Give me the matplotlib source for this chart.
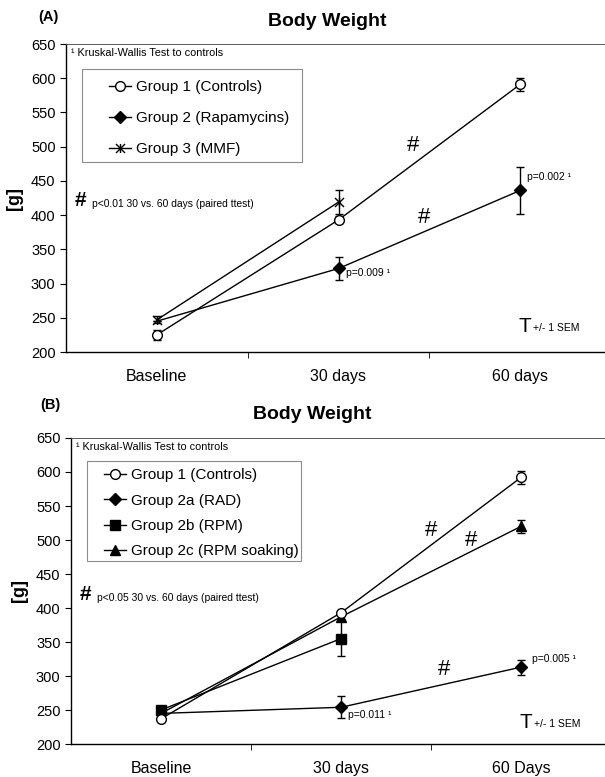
import numpy as np
import matplotlib.pyplot as plt
from matplotlib.path import Path
from matplotlib.lines import Line2D
from matplotlib.patches import Rectangle

plt.rcParams['font.family'] = ['Liberation Sans', 'DejaVu Sans']

# categories
cats_a = ['Baseline', '30 days', '60 days']
cats_b = ['Baseline', '30 days', '60 Days']

# panel A data (mean, SEM)
g1_a = [225, 393, 591]
g1_a_err = [7, 5, 10]
g2_a = [245, 322, 436]
g2_a_err = [0, 17, 35]
g3_a = [247, 419]
g3_a_err = [5, 18]

# panel B data
g1_b = [237, 393, 592]
g1_b_err = [4, 4, 10]
g2a_b = [245, 254, 313]
g2a_b_err = [0, 16, 11]
g2b_b = [250, 355]
g2b_b_err = [0, 26]
g2c_b = [245, 387, 520]
g2c_b_err = [0, 4, 10]

# asterisk-like marker: x with vertical stroke
xmark = Path([(-1, -1), (1, 1), (-1, 1), (1, -1), (0, -1), (0, 1)],
             [Path.MOVETO, Path.LINETO, Path.MOVETO, Path.LINETO,
              Path.MOVETO, Path.LINETO])

fig = plt.figure(figsize=(6.05, 7.77), dpi=100)
H = 777.0
W = 605.0


def make_axes(left, top, bottom):
    # axes in pixel coordinates, right edge runs past the figure
    ax = fig.add_axes([left / W, 1 - bottom / H, (611 - left) / W, (bottom - top) / H])
    ax.set_xlim(-0.5, 2.5)
    ax.set_ylim(200, 650)
    ax.set_yticks(np.arange(200, 651, 50))
    ax.set_xticks([0, 1, 2])
    ax.set_xticks([0.5, 1.5], minor=True)
    ax.tick_params(axis='x', which='major', length=0, pad=12, labelsize=11.5)
    ax.tick_params(axis='x', which='minor', length=4, width=0.6)
    ax.tick_params(axis='y', length=4, width=0.8, labelsize=10.5)
    ax.spines['right'].set_visible(False)
    for s in ax.spines.values():
        s.set_linewidth(1.0)
    ax.spines['top'].set_color('0.35')
    ax.spines['top'].set_linewidth(0.7)
    ax.set_ylabel('[g]', fontsize=13, fontweight='bold', labelpad=6)
    return ax


def series(ax, xs, ys, err, marker, mfc, ms, mev=None):
    ax.errorbar(xs, ys, yerr=err, fmt='-', color='black', lw=1.0,
                marker=marker, markerfacecolor=mfc, markeredgecolor='black',
                markersize=ms, markeredgewidth=1.0, elinewidth=1.0,
                capsize=3, capthick=1.0, markevery=mev)


def handle(marker, mfc, ms):
    return Line2D([], [], color='black', lw=1.0, marker=marker,
                  markerfacecolor=mfc, markeredgecolor='black', markersize=ms)


def legend_box(ax, handles, labels, box, anchor, spacing):
    # frame drawn separately so the box can be wider than the entries
    ax.add_patch(Rectangle((box[0], box[1]), box[2], box[3], transform=ax.transAxes,
                           facecolor='white', edgecolor='0.55', lw=0.8, zorder=4))
    leg = ax.legend(handles, labels, loc='upper left', bbox_to_anchor=anchor,
                    borderaxespad=0, borderpad=0, frameon=False, fontsize=11,
                    handlelength=1.45, handletextpad=0.3, labelspacing=spacing)
    leg.set_zorder(5)


def hash_mark(ax, x, y):
    ax.text(x, y, '#', fontsize=16, va='center', ha='center')


def note(ax, y, txt):
    ax.text(-0.45, y, '#', fontsize=15, fontweight='bold', va='center', ha='left')
    ax.text(-0.357, y - 5, txt, fontsize=7.4, va='center')


########################
# Panel A
########################
axA = make_axes(66, 44, 352)
axA.set_xticklabels(cats_a)
x3 = np.arange(3)
series(axA, x3, g2_a, g2_a_err, 'D', 'black', 6, mev=[1, 2])
series(axA, x3[:2], g3_a, g3_a_err, xmark, 'none', 6.5)
series(axA, x3, g1_a, g1_a_err, 'o', 'white', 7)

legend_box(axA, [handle('o', 'white', 7), handle('D', 'black', 6), handle(xmark, 'none', 6.5)],
           ['Group 1 (Controls)', 'Group 2 (Rapamycins)', 'Group 3 (MMF)'],
           (0.029, 0.617, 0.404, 0.302), (0.079, 0.8815), 1.1)

axA.text(-0.47, 637, '¹ Kruskal-Wallis Test to controls', fontsize=7.8, va='center')
note(axA, 421, 'p<0.01 30 vs. 60 days (paired ttest)')
hash_mark(axA, 1.41, 501)
hash_mark(axA, 1.47, 397)
axA.text(1.04, 315, 'p=0.009 ¹', fontsize=7.5, va='center')
axA.text(2.04, 456, 'p=0.002 ¹', fontsize=7.5, va='center')
axA.text(1.99, 237, 'T', fontsize=15, va='center')
axA.text(2.07, 235, '+/- 1 SEM', fontsize=7.5, va='center')

fig.text(327 / W, 1 - 22 / H, 'Body Weight', fontsize=14, fontweight='bold',
         ha='center', va='center')
fig.text(48 / W, 1 - 17 / H, '(A)', fontsize=10.5, fontweight='bold',
         ha='center', va='center')

########################
# Panel B
########################
axB = make_axes(71, 438, 744)
axB.set_xticklabels(cats_b)
series(axB, x3, g2a_b, g2a_b_err, 'D', 'black', 6, mev=[1, 2])
series(axB, x3, g2c_b, g2c_b_err, '^', 'black', 7.5, mev=[1, 2])
series(axB, x3[:2], g2b_b, g2b_b_err, 's', 'black', 7)
series(axB, x3, g1_b, g1_b_err, 'o', 'white', 7)

legend_box(axB, [handle('o', 'white', 7), handle('D', 'black', 6),
                 handle('s', 'black', 7), handle('^', 'black', 7.5)],
           ['Group 1 (Controls)', 'Group 2a (RAD)', 'Group 2b (RPM)',
            'Group 2c (RPM soaking)'],
           (0.03, 0.598, 0.396, 0.327), (0.061, 0.9005), 0.74)

axB.text(-0.47, 637, '¹ Kruskal-Wallis Test to controls', fontsize=7.8, va='center')
note(axB, 420, 'p<0.05 30 vs. 60 days (paired ttest)')
hash_mark(axB, 1.50, 514)
hash_mark(axB, 1.72, 500)
hash_mark(axB, 1.57, 309)
axB.text(1.04, 243, 'p=0.011 ¹', fontsize=7.5, va='center')
axB.text(2.06, 325, 'p=0.005 ¹', fontsize=7.5, va='center')
axB.text(1.99, 232, 'T', fontsize=15, va='center')
axB.text(2.07, 230, '+/- 1 SEM', fontsize=7.5, va='center')

fig.text(312 / W, 1 - 414 / H, 'Body Weight', fontsize=14, fontweight='bold',
         ha='center', va='center')
fig.text(50 / W, 1 - 405 / H, '(B)', fontsize=10.5, fontweight='bold',
         ha='center', va='center')

fig.savefig('out.png', dpi=100)
